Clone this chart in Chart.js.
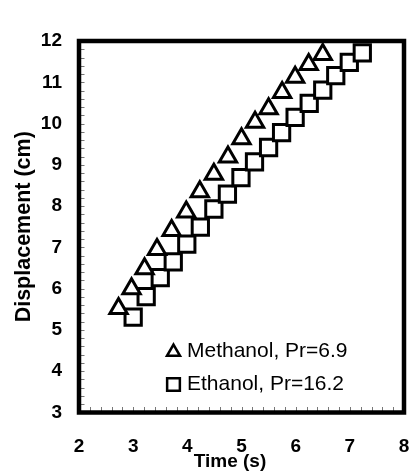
<!DOCTYPE html>
<html>
<head>
<meta charset="utf-8">
<script src="https://cdn.jsdelivr.net/npm/chart.js"></script>
<style>
  html, body { margin: 0; padding: 0; background: #fff; overflow: hidden; }
  #box { width: 411px; height: 475px; position: relative; }
  #graf { display: block; }
</style>
</head>
<body>
<div id="box"><canvas id="graf"></canvas></div>
<script>
// valores
var methanolTime = [2.73, 2.97, 3.21, 3.44, 3.71, 3.98, 4.23, 4.49, 4.75, 5.0, 5.25, 5.5, 5.75, 5.99, 6.24, 6.5];
var methanolDisp = [5.52, 6.0, 6.48, 6.95, 7.41, 7.86, 8.35, 8.77, 9.19, 9.63, 10.03, 10.36, 10.75, 11.12, 11.43, 11.67];
var ethanolTime = [3.0, 3.24, 3.5, 3.74, 3.99, 4.24, 4.49, 4.74, 4.99, 5.24, 5.5, 5.74, 5.99, 6.25, 6.5, 6.74, 6.99, 7.23];
var ethanolDisp = [5.31, 5.81, 6.27, 6.65, 7.08, 7.49, 7.93, 8.29, 8.69, 9.07, 9.42, 9.78, 10.15, 10.49, 10.81, 11.16, 11.48, 11.71];
var seriesLabels = ['Methanol, Pr=6.9', 'Ethanol, Pr=16.2'];
var xTitle = 'Time (s)';
var yTitle = 'Displacement (cm)';
var xTicks = [2, 8, 1];   // min, max, passo
var yTicks = [3, 12, 1];

var fonte = '"Liberation Sans", Arial, sans-serif';

function pares(xs, ys) {
    return xs.map(function (x, i) { return {x: x, y: ys[i]}; });
}

// moldura grossa + tracinhos menores para dentro
var moldura = {
    id: 'moldura',
    beforeDatasetsDraw: function (chart) {
        var ctx = chart.ctx, a = chart.chartArea;
        var sx = chart.scales.x, sy = chart.scales.y;
        ctx.save();
        ctx.strokeStyle = '#777';
        ctx.lineWidth = 1;
        ctx.beginPath();
        for (var v = xTicks[0]; v <= xTicks[1] + 1e-9; v += 0.2) {
            var px = Math.round(sx.getPixelForValue(v)) + 0.5;
            ctx.moveTo(px, a.bottom);
            ctx.lineTo(px, a.bottom - 5.5);
        }
        for (var w = yTicks[0]; w <= yTicks[1] + 1e-9; w += 0.2) {
            var py = Math.round(sy.getPixelForValue(w)) + 0.5;
            ctx.moveTo(a.left, py);
            ctx.lineTo(a.left + 5.5, py);
        }
        ctx.stroke();
        ctx.strokeStyle = '#000';
        ctx.lineWidth = 4.5;
        ctx.strokeRect(a.left, a.top, a.right - a.left, a.bottom - a.top);
        ctx.restore();
    }
};

// legenda dentro da area do grafico + titulo do eixo x
var legendaDentro = {
    id: 'legendaDentro',
    afterDraw: function (chart) {
        var ctx = chart.ctx, a = chart.chartArea;
        var estilos = [{pointStyle: 'triangle', radius: 7.5}, {pointStyle: 'rect', radius: 9}];
        ctx.save();
        chart.data.datasets.forEach(function (ds, i) {
            var y = a.top + 310 + i * 33.5;
            var x = a.left + 94.5;
            ctx.fillStyle = '#fff';
            ctx.strokeStyle = '#000';
            ctx.lineWidth = 2.5;
            Chart.helpers.drawPoint(ctx, {pointStyle: estilos[i].pointStyle, radius: estilos[i].radius, borderWidth: 2.5}, x, y + (i === 0 ? 1 : 0));
            ctx.fillStyle = '#000';
            ctx.font = '21px ' + fonte;
            ctx.textBaseline = 'middle';
            ctx.fillText(ds.label, a.left + 108, y);
        });
        // titulo do eixo x (centrado como no original)
        ctx.font = 'bold 19px ' + fonte;
        ctx.textAlign = 'center';
        ctx.textBaseline = 'middle';
        ctx.fillText(xTitle, 230, 462);
        ctx.restore();
    }
};

var graf = new Chart(document.getElementById('graf'), {
    type: 'scatter',
    data: {
        datasets: [{
            label: seriesLabels[0],
            data: pares(methanolTime, methanolDisp),
            pointStyle: 'triangle',
            pointRadius: 10,
            pointHoverRadius: 10,
            pointBorderWidth: 3,
            borderColor: '#000',
            backgroundColor: '#fff',
            clip: false
        }, {
            label: seriesLabels[1],
            data: pares(ethanolTime, ethanolDisp),
            pointStyle: 'rect',
            pointRadius: 11.5,
            pointHoverRadius: 11.5,
            pointBorderWidth: 3,
            borderColor: '#000',
            backgroundColor: '#fff',
            clip: false
        }]
    },
    options: {
        responsive: true,
        maintainAspectRatio: false,
        animation: false,
        events: [],
        layout: {autoPadding: false, padding: {top: 41, right: 7, left: 0, bottom: 0}},
        plugins: {legend: {display: false}, tooltip: {enabled: false}},
        scales: {
            x: {
                type: 'linear',
                min: xTicks[0], max: xTicks[1],
                grid: {display: false, drawTicks: false},
                border: {display: false},
                ticks: {
                    stepSize: xTicks[2],
                    color: '#000',
                    padding: 23,
                    font: {family: fonte, size: 19, weight: 'bold'}
                },
                title: {display: false},
                afterFit: function (s) {
                    s.height = 62.5;
                    s.paddingLeft = 0;
                    s.paddingRight = 0;
                }
            },
            y: {
                type: 'linear',
                min: yTicks[0], max: yTicks[1],
                grid: {display: false, drawTicks: false},
                border: {display: false},
                ticks: {
                    stepSize: yTicks[2],
                    color: '#000',
                    padding: 17,
                    font: {family: fonte, size: 19, weight: 'bold'}
                },
                title: {
                    display: true,
                    text: yTitle,
                    color: '#000',
                    padding: {top: 11, bottom: 0},
                    font: {family: fonte, size: 21.5, weight: 'bold'}
                },
                afterFit: function (s) {
                    s.width = 79;
                    s.paddingTop = 0;
                    s.paddingBottom = 0;
                }
            }
        }
    },
    plugins: [moldura, legendaDentro]
});
</script>
</body>
</html>
